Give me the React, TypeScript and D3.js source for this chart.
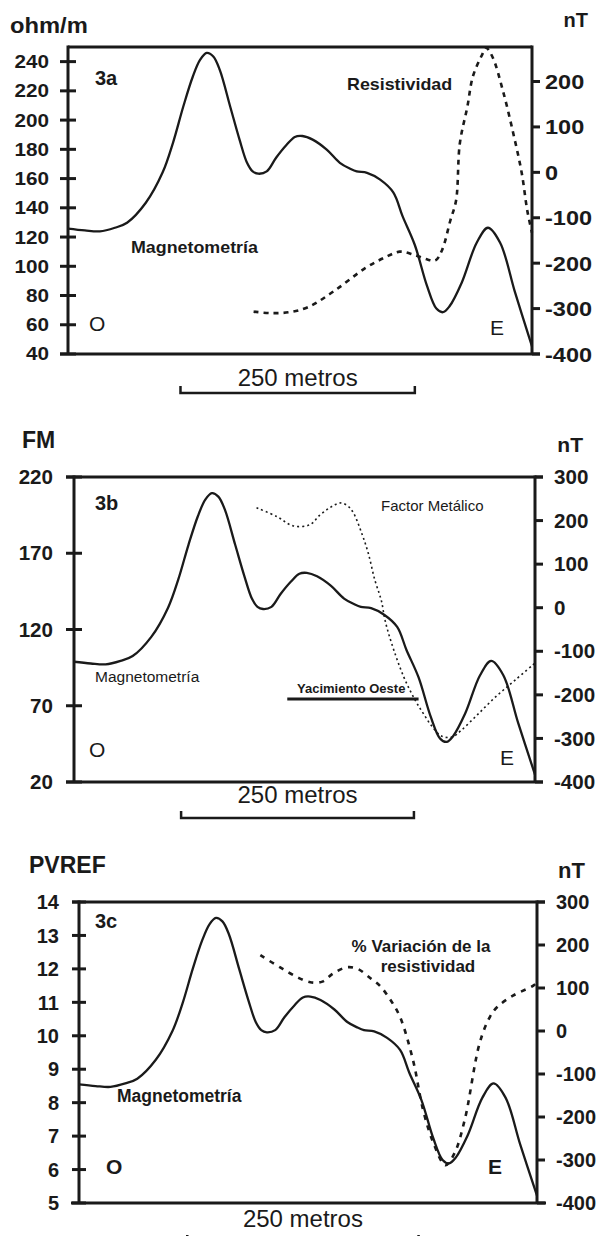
import React from "react";
import * as d3 from "d3";

const W = 600;
const H = 1236;
const FONT = "'Liberation Sans', Arial, Helvetica, sans-serif";
const INK = "#1a1a1a";

// distance along the profile, metres (shared by the three panels)
const magX = [0, 18, 34, 50, 63, 83, 101, 112, 123, 133, 141, 148, 155, 162, 173, 183, 191, 197, 203, 212, 222, 233, 242, 250, 261, 276, 290, 301, 308, 319, 333, 347, 357, 370, 383, 393, 400, 407, 420, 436, 448, 461, 477, 495];
// magnetometria, nT
const magNT = [-124, -128, -130, -122, -111, -67, 0, 65, 145, 210, 248, 263, 255, 225, 145, 72, 21, 2, -3, 2, 32, 60, 78, 80, 72, 50, 21, 8, 2, -1, -16, -44, -97, -160, -250, -300, -308, -295, -243, -155, -122, -155, -265, -383];

// 3a resistividad, ohm/m
const resX = [198, 215, 235, 256, 285, 317, 338, 354, 370, 384, 392, 399, 408, 414, 418, 426, 432, 442, 446, 453, 464, 475, 484, 490, 495];
const resOhm = [69, 68, 68.5, 72, 83.6, 98.7, 106, 110, 107.6, 104.5, 104, 111, 131.6, 145, 184, 209, 230, 245, 249.5, 243, 220, 191, 164, 138, 123];

// 3b factor metalico
const fmX = [196, 218, 235, 253, 264, 275, 286, 294, 300, 309, 316, 323, 330, 334, 341, 354, 366, 375, 385, 395, 406, 416, 433, 453, 474, 495];
const fmVal = [199.8, 194, 188, 188.6, 195, 200, 203, 201, 196.5, 183, 170, 152.5, 139, 126, 111, 89, 74, 65, 56, 50, 49.5, 54, 64, 76, 87, 98];

// 3c % variacion de la resistividad (PVREF)
const pvX = [196, 217, 236, 250, 263, 275, 290, 302, 315, 325, 336, 347, 361, 372, 383, 396, 406, 417, 433, 444, 452, 469, 491, 495];
const pvVal = [12.41, 12.05, 11.75, 11.6, 11.62, 11.87, 12.05, 11.99, 11.72, 11.5, 11.1, 10.56, 9.27, 7.77, 6.8, 6.13, 6.5, 7.5, 9.78, 10.56, 10.86, 11.2, 11.5, 11.6];

const yacimientoX = [229, 370];

const ticksOhm = [40, 60, 80, 100, 120, 140, 160, 180, 200, 220, 240];
const ticksFM = [20, 70, 120, 170, 220];
const ticksPV = [5, 6, 7, 8, 9, 10, 11, 12, 13, 14];
const ticksNTa = [-400, -300, -200, -100, 0, 100, 200];
const ticksNT = [-400, -300, -200, -100, 0, 100, 200, 300];

type Lbl = { t: string; x: number; y: number; size: number; bold?: boolean; anchor?: string; sx?: number };

// text with an optional horizontal stretch (the original lettering is a bit wide)
function T({ x, y, size, bold, anchor, sx = 1, dy, children }: any) {
  return (
    <text
      transform={`translate(${x},${y}) scale(${sx},1)`}
      dy={dy}
      fontFamily={FONT}
      fontSize={size}
      fontWeight={bold ? "bold" : "normal"}
      textAnchor={anchor || "start"}
      fill={INK}
    >
      {children}
    </text>
  );
}

const panels = [
  {
    id: "3a", left: 68, right: 532, top: 47, bottom: 354,
    yL: [40, 250], yR: [-400, 276], lt: ticksOhm, rt: ticksNTa, tick: 8,
    topFrom: 68, topTo: 532, botFrom: 60, botTo: 540,
    lLab: { x: 49, size: 18, sx: 1.15 }, rLab: { x: 545, size: 21, sx: 1.12 },
    unitL: { t: "ohm/m", x: 10, y: 33, size: 22, sx: 1.08 }, unitR: { t: "nT", x: 588, y: 27, size: 20 },
    bar: { m: 120, y: 393, ty: 386 },
    sec: { xs: resX, ys: resOhm, width: 2.6, dash: "5 5" },
    labels: [
      { t: "3a", x: 95, y: 85, size: 20, bold: true },
      { t: "Magnetometría", x: 131, y: 253, size: 17, bold: true, sx: 1.05 },
      { t: "Resistividad", x: 347, y: 90, size: 17, bold: true, sx: 1.05 },
      { t: "O", x: 89, y: 331, size: 21 },
      { t: "E", x: 490, y: 335, size: 21 },
    ] as Lbl[],
  },
  {
    id: "3b", left: 74, right: 535, top: 477, bottom: 782,
    yL: [20, 220], yR: [-400, 300], lt: ticksFM, rt: ticksNT, tick: 8,
    topFrom: 66, topTo: 543, botFrom: 66, botTo: 543,
    lLab: { x: 53, size: 20, sx: 1.03 }, rLab: { x: 554, size: 20, sx: 1.03 },
    unitL: { t: "FM", x: 22, y: 448, size: 23 }, unitR: { t: "nT", x: 583, y: 452, size: 21 },
    bar: { m: 115, y: 818, ty: 803 },
    sec: { xs: fmX, ys: fmVal, width: 1.6, dash: "2 3" },
    labels: [
      { t: "3b", x: 95, y: 510, size: 20, bold: true },
      { t: "Magnetometría", x: 95, y: 682, size: 15.5 },
      { t: "Factor Metálico", x: 381, y: 511, size: 15 },
      { t: "Yacimiento Oeste", x: 297, y: 693, size: 13, bold: true },
      { t: "O", x: 89, y: 757, size: 21 },
      { t: "E", x: 500, y: 765, size: 21 },
    ] as Lbl[],
  },
  {
    id: "3c", left: 79, right: 537, top: 902, bottom: 1203,
    yL: [5, 14], yR: [-400, 300], lt: ticksPV, rt: ticksNT, tick: 7,
    topFrom: 72, topTo: 545, botFrom: 71, botTo: 546,
    lLab: { x: 59, size: 20, sx: 1 }, rLab: { x: 556, size: 20, sx: 1 },
    unitL: { t: "PVREF", x: 29, y: 873, size: 23 }, unitR: { t: "nT", x: 585, y: 878, size: 22 },
    bar: { m: 117, y: 1242, ty: 1227 },
    sec: { xs: pvX, ys: pvVal, width: 2.6, dash: "5 6" },
    labels: [
      { t: "3c", x: 95, y: 928, size: 20, bold: true },
      { t: "% Variación de la", x: 421, y: 952, size: 17, bold: true, anchor: "middle" },
      { t: "resistividad", x: 428, y: 972, size: 17, bold: true, anchor: "middle" },
      { t: "Magnetometría", x: 117, y: 1102, size: 17.5, bold: true },
      { t: "O", x: 106, y: 1174, size: 21, bold: true },
      { t: "E", x: 488, y: 1174, size: 21, bold: true },
    ] as Lbl[],
  },
];

function Panel({ p }: { p: (typeof panels)[number] }) {
  const x = d3.scaleLinear().domain([0, 495]).range([p.left, p.right]);
  const yL = d3.scaleLinear().domain(p.yL).range([p.bottom, p.top]);
  const yR = d3.scaleLinear().domain(p.yR).range([p.bottom, p.top]);

  const magLine = d3
    .line<number>()
    .x((d, i) => x(magX[i]))
    .y((d) => yR(d))
    .curve(d3.curveCatmullRom.alpha(0.5));
  const secLine = d3
    .line<number>()
    .x((d, i) => x(p.sec.xs[i]))
    .y((d) => yL(d))
    .curve(d3.curveCatmullRom.alpha(0.5));

  const bx0 = x(p.bar.m);
  const bx1 = x(p.bar.m + 250);

  return (
    <g>
      {/* frame and ticks */}
      <g stroke={INK} strokeWidth={3} fill="none">
        <line x1={p.left} x2={p.left} y1={p.top - 1.5} y2={p.bottom} />
        <line x1={p.right} x2={p.right} y1={p.top - 1.5} y2={p.bottom} />
        <line x1={p.topFrom} x2={p.topTo} y1={p.top} y2={p.top} />
        <line x1={p.botFrom} x2={p.botTo} y1={p.bottom} y2={p.bottom} />
        {p.lt.map((v) => (
          <line key={"l" + v} x1={p.left - p.tick} x2={p.left + p.tick} y1={yL(v)} y2={yL(v)} />
        ))}
        {p.rt.map((v) => (
          <line key={"r" + v} x1={p.right} x2={p.right + 8} y1={yR(v)} y2={yR(v)} />
        ))}
      </g>
      {p.lt.map((v) => (
        <T key={"lt" + v} x={p.lLab.x} y={yL(v)} dy="0.36em" size={p.lLab.size} sx={p.lLab.sx} bold anchor="end">
          {v}
        </T>
      ))}
      {p.rt.map((v) => (
        <T key={"rt" + v} x={p.rLab.x} y={yR(v)} dy="0.36em" size={p.rLab.size} sx={p.rLab.sx} bold>
          {v}
        </T>
      ))}
      <T x={p.unitL.x} y={p.unitL.y} size={p.unitL.size} sx={p.unitL.sx} bold>
        {p.unitL.t}
      </T>
      <T x={p.unitR.x} y={p.unitR.y} size={p.unitR.size} bold anchor="end">
        {p.unitR.t}
      </T>

      {/* curves */}
      <path d={magLine(magNT) || ""} fill="none" stroke={INK} strokeWidth={2.3} />
      <path
        d={secLine(p.sec.ys) || ""}
        fill="none"
        stroke={INK}
        strokeWidth={p.sec.width}
        strokeDasharray={p.sec.dash}
      />
      {p.id === "3b" && (
        <line x1={x(yacimientoX[0])} x2={x(yacimientoX[1])} y1={699} y2={699} stroke={INK} strokeWidth={3} />
      )}

      {/* labels */}
      {p.labels.map((l) => (
        <T key={l.t} x={l.x} y={l.y} size={l.size} bold={l.bold} anchor={l.anchor} sx={l.sx}>
          {l.t}
        </T>
      ))}

      {/* scale bar */}
      <T x={(bx0 + bx1) / 2} y={p.bar.ty} size={24} anchor="middle">
        250 metros
      </T>
      <path
        d={`M${bx0},${p.bar.y - 7}V${p.bar.y}H${bx1}V${p.bar.y - 7}`}
        fill="none"
        stroke={INK}
        strokeWidth={2.5}
      />
    </g>
  );
}

export default function App() {
  return (
    <svg
      width={W}
      height={H}
      viewBox={`0 0 ${W} ${H}`}
      style={{ position: "absolute", left: 0, top: 0, background: "#fff" }}
    >
      <rect width={W} height={H} fill="#fff" />
      {panels.map((p) => (
        <Panel key={p.id} p={p} />
      ))}
    </svg>
  );
}
